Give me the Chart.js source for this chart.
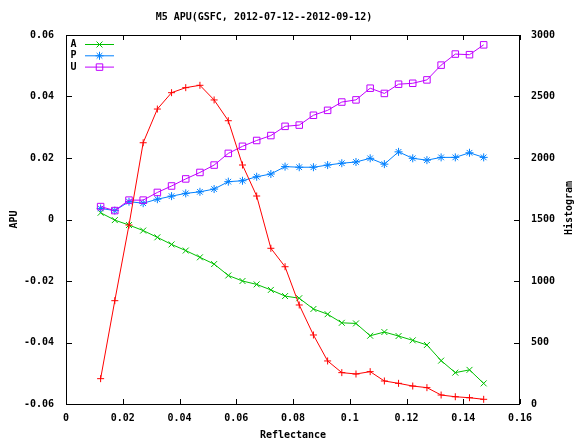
<!DOCTYPE html>
<html>
<head>
<meta charset="utf-8">
<script src="https://cdn.jsdelivr.net/npm/chart.js@4/dist/chart.umd.min.js"></script>
<style>
html,body{margin:0;padding:0;background:#fff;}
canvas{display:block;}
</style>
</head>
<body>
<canvas id="c" width="577" height="439"></canvas>
<script>
// ---- data ----
const reflectance = [0.0122,0.0172,0.0222,0.0272,0.0322,0.0372,0.0422,0.0472,0.0522,0.0572,0.0622,0.0672,0.0722,0.0772,
                     0.0822,0.0872,0.0922,0.0972,0.1022,0.1072,0.1122,0.1172,0.1222,0.1272,0.1322,0.1372,0.1422,0.1472];
const seriesA = [0.0022,-0.0002,-0.0018,-0.0036,-0.0058,-0.0081,-0.0101,-0.0123,-0.0145,-0.0182,-0.0200,-0.0211,-0.0229,-0.0249,
                 -0.0256,-0.0291,-0.0308,-0.0336,-0.0338,-0.0378,-0.0366,-0.0379,-0.0393,-0.0408,-0.0459,-0.0498,-0.0489,-0.0533];
const seriesP = [0.0036,0.0029,0.0058,0.0053,0.0066,0.0076,0.0085,0.0090,0.0099,0.0123,0.0126,0.0139,0.0148,0.0172,
                 0.0170,0.0170,0.0177,0.0183,0.0187,0.0199,0.0180,0.0220,0.0199,0.0193,0.0202,0.0202,0.0217,0.0202];
const seriesU = [0.0042,0.0029,0.0063,0.0063,0.0088,0.0109,0.0132,0.0153,0.0177,0.0215,0.0238,0.0257,0.0273,0.0303,
                 0.0307,0.0339,0.0355,0.0382,0.0389,0.0427,0.0410,0.0440,0.0443,0.0454,0.0502,0.0538,0.0536,0.0568];
const histogram = [206,840,1455,2124,2398,2531,2572,2591,2472,2303,1943,1691,1266,1116,
                   805,561,350,255,244,263,187,168,146,133,73,59,51,38];
const xTicks = [0,0.02,0.04,0.06,0.08,0.1,0.12,0.14,0.16];
const yTicks = [-0.06,-0.04,-0.02,0,0.02,0.04,0.06];
const y2Ticks = [0,500,1000,1500,2000,2500,3000];
const titleText = 'M5 APU(GSFC, 2012-07-12--2012-09-12)';
const xTitle = 'Reflectance';
const yTitle = 'APU';
const y2Title = 'Histogram';
const legendNames = ['A','P','U'];

// ---- styling ----
const FONT = "'DejaVu Sans Mono', monospace";
const COLORS = {A:'#00c000', P:'#0080ff', U:'#c000ff', H:'#ff0000'};
const pts = (ys) => reflectance.map((x,i)=>({x:x, y:ys[i]}));

const datasets = [
  {label:'Histogram', data:pts(histogram), yAxisID:'y2', borderColor:COLORS.H, pointStyle:'cross', pointRadius:3.5},
  {label:'U', data:pts(seriesU), yAxisID:'y', borderColor:COLORS.U, pointStyle:'rect', pointRadius:4.6},
  {label:'P', data:pts(seriesP), yAxisID:'y', borderColor:COLORS.P, pointStyle:'star', pointRadius:4},
  {label:'A', data:pts(seriesA), yAxisID:'y', borderColor:COLORS.A, pointStyle:'crossRot', pointRadius:4.2}
].map(d => Object.assign({
  borderWidth:1, pointBorderWidth:1, pointBorderColor:d.borderColor,
  pointBackgroundColor:'rgba(0,0,0,0)', pointHoverRadius:d.pointRadius, tension:0, fill:false
}, d));

const legendStyles = {A:{style:'crossRot',r:4.2}, P:{style:'star',r:4}, U:{style:'rect',r:4.6}};

const decor = {
  id:'decor',
  afterDraw(chart){
    const ctx = chart.ctx, a = chart.chartArea;
    ctx.save();
    // frame
    ctx.strokeStyle = '#000'; ctx.lineWidth = 1;
    ctx.strokeRect(Math.round(a.left)+0.5, Math.round(a.top)+0.5, Math.round(a.right-a.left)-1, Math.round(a.bottom-a.top));
    // inward ticks
    const TL = 5;
    ctx.beginPath();
    const sx = chart.scales.x, sy = chart.scales.y, sy2 = chart.scales.y2;
    xTicks.forEach(v => {
      const px = Math.round(sx.getPixelForValue(v)) + 0.5;
      ctx.moveTo(px, a.bottom); ctx.lineTo(px, a.bottom - TL);
      ctx.moveTo(px, a.top); ctx.lineTo(px, a.top + TL);
    });
    yTicks.forEach(v => {
      const py = Math.round(sy.getPixelForValue(v)) + 0.5;
      ctx.moveTo(a.left, py); ctx.lineTo(a.left + TL + 1, py);
    });
    y2Ticks.forEach(v => {
      const py = Math.round(sy2.getPixelForValue(v)) + 0.5;
      ctx.moveTo(a.right, py); ctx.lineTo(a.right - TL - 1, py);
    });
    ctx.stroke();
    // title
    ctx.fillStyle = '#000';
    ctx.font = 'bold 10px ' + FONT;
    ctx.textAlign = 'center'; ctx.textBaseline = 'middle';
    ctx.fillText(titleText, 264, 17);
    // right axis title, reading bottom to top
    ctx.save();
    ctx.translate(569, 208);
    ctx.rotate(-Math.PI/2);
    ctx.fillText(y2Title, 0, 0);
    ctx.restore();
    // legend
    legendNames.forEach((n,i) => {
      const y = 44.5 + i*11.3;
      ctx.fillStyle = '#000';
      ctx.textAlign = 'center';
      ctx.fillText(n, 73.5, y);
      ctx.strokeStyle = COLORS[n]; ctx.lineWidth = 1;
      ctx.beginPath(); ctx.moveTo(85, y); ctx.lineTo(114, y); ctx.stroke();
      ctx.fillStyle = 'rgba(0,0,0,0)';
      Chart.helpers.drawPoint(ctx, {pointStyle:legendStyles[n].style, radius:legendStyles[n].r, rotation:0, borderWidth:1}, 99.5, y);
    });
    ctx.restore();
  }
};

const tickFont = {family:FONT, size:10, weight:'bold'};
const noGrid = {display:false, drawTicks:false, tickLength:0};
new Chart(document.getElementById('c'), {
  type:'line',
  data:{datasets},
  options:{
    responsive:false, animation:false, devicePixelRatio:1,
    layout:{padding:{top:35, left:0, right:0, bottom:0}},
    plugins:{legend:{display:false}, tooltip:{enabled:false}, title:{display:false}},
    scales:{
      x:{type:'linear', position:'bottom', min:0, max:0.16,
         afterFit(s){ s.height = 35; },
         afterBuildTicks(s){ s.ticks = xTicks.map(v=>({value:v})); },
         grid:noGrid, border:{display:false},
         ticks:{color:'#000', font:tickFont, padding:8, maxRotation:0, autoSkip:false,
                callback:v => String(+v.toFixed(2))},
         title:{display:true, text:xTitle, color:'#000', font:Object.assign({lineHeight:0.8},tickFont), padding:{top:0,bottom:0}}},
      y:{type:'linear', position:'left', min:-0.06, max:0.06,
         afterFit(s){ s.width = 66; },
         afterBuildTicks(s){ s.ticks = yTicks.map(v=>({value:v})); },
         grid:noGrid, border:{display:false},
         ticks:{color:'#000', font:tickFont, padding:12, autoSkip:false,
                callback:v => String(+v.toFixed(2))},
         title:{display:true, text:yTitle, color:'#000', font:Object.assign({lineHeight:1.2},tickFont), padding:{top:8,bottom:0}}},
      y2:{type:'linear', position:'right', min:0, max:3000,
         afterFit(s){ s.width = 57; },
         afterBuildTicks(s){ s.ticks = y2Ticks.map(v=>({value:v})); },
         grid:noGrid, border:{display:false},
         ticks:{color:'#000', font:tickFont, padding:11, autoSkip:false,
                callback:v => String(v)}}
    }
  },
  plugins:[decor]
});
</script>
</body>
</html>
